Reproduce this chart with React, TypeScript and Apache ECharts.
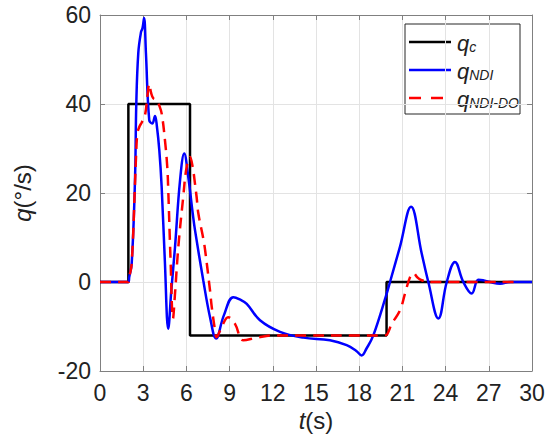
import React, { useEffect, useRef } from "react";
import * as echarts from "echarts";

// q_c command (step signal)
const qcT = [0, 1.97, 1.97, 6.25, 6.25, 19.9, 19.9, 30];
const qcV = [0, 0, 40, 40, -12, -12, 0, 0];

// q_NDI response
const ndiT = [0, 1.97, 2.03, 2.2, 2.43, 2.52, 2.66, 2.85, 2.95, 3.06, 3.19, 3.42, 3.63, 3.82, 3.95, 4.12, 4.28, 4.5, 4.74, 4.95, 5.21, 5.56, 5.85, 6.13, 6.44, 6.6, 7.17, 7.64, 8.06, 8.6, 9.26, 9.7, 10.19, 11.11, 12.5, 14.12, 15.97, 17.13, 17.8, 18.17, 18.5, 18.98, 19.91, 20.14, 20.83, 21.6, 22.34, 22.8, 23.5, 24.08, 24.65, 25.23, 25.81, 26.27, 26.6, 27.08, 27.78, 28.5, 30];
const ndiV = [0, 0, 1.1, 4.1, 22.9, 40, 51.5, 56.2, 57, 59.3, 51.4, 36.4, 35.6, 37.3, 35, 29.6, 21.5, 5, -10.5, -2, 7.9, 22.9, 28.9, 23.6, 15.4, 11.6, 0.4, -7.9, -12.7, -7.5, -3.4, -3.9, -4.9, -8.6, -11.2, -12.5, -13.1, -14.2, -15.5, -16.5, -15, -12, -2.6, 0, 7.9, 16.9, 6.4, 0, -8.2, 0, 4.5, 0, -2.6, 0.5, 0.4, 0, -0.4, 0, 0];

// q_NDI-DO response
const ndoT = [0, 1.97, 2.03, 2.2, 2.43, 2.5, 2.6, 2.75, 2.89, 3.125, 3.3, 3.42, 3.55, 3.7, 3.94, 4.1, 4.28, 4.51, 4.67, 4.74, 4.9, 5.07, 5.2, 5.44, 5.78, 6.0, 6.25, 6.45, 6.6, 6.71, 6.83, 7.17, 7.29, 7.64, 7.76, 7.99, 8.09, 8.4, 8.9, 9.375, 9.95, 10.9, 12, 19.75, 19.95, 20.26, 20.83, 21.18, 21.53, 21.76, 22.05, 22.34, 23, 29.2];
const ndoV = [0, 0, 1.1, 4.1, 22, 28, 33.5, 35, 35.8, 37.5, 42, 44.5, 42.5, 41.3, 40.9, 39.8, 37.9, 31.9, 25.9, 20.6, 5, -8.2, -3, 7.9, 19.1, 25.5, 28.1, 25.5, 22, 19.1, 15.4, 9.8, 7.4, -1.9, -5.6, -10.9, -12.4, -10.5, -7.9, -9.4, -13.1, -12.5, -12, -12, -11.7, -9.4, -6.4, -2.6, 1.1, 2, 1, 0.4, 0, 0];

const xTicks = { min: 0, max: 30, interval: 3 };
const yTicks = { min: -20, max: 60, interval: 20 };

const FONT = "Liberation Sans";
const TXT = "#222222";
const AXIS = "#808080";

const zip = (t: number[], v: number[]) => t.map((x, i) => [x, v[i]]);

export default function App() {
  const ref = useRef<HTMLDivElement>(null);
  useEffect(() => {
    document.body.style.margin = "0";
    const chart = echarts.init(ref.current!, undefined, { renderer: "svg" });
    const axisCommon = {
      type: "value" as const,
      axisLine: { show: true, onZero: false, lineStyle: { color: AXIS, width: 1 } },
      axisTick: { show: true, inside: true, length: 5, lineStyle: { color: AXIS } },
    };
    const legendItems = [
      { color: "#000000", dash: "solid", sub: "c", y: 42 },
      { color: "#0000ff", dash: "solid", sub: "NDI", y: 70 },
      { color: "#ff0000", dash: [12, 10], sub: "NDI-DO", y: 98 },
    ];
    chart.setOption({
      animation: false,
      backgroundColor: "#ffffff",
      grid: { left: 100, right: 18, top: 15, bottom: 73, containLabel: false, outerBoundsMode: "none" },
      xAxis: [
        {
          ...axisCommon,
          ...xTicks,
          position: "bottom",
          axisLabel: { show: true, margin: 10, fontSize: 23, color: TXT, fontFamily: FONT },
          splitLine: { show: true, lineStyle: { color: "#e3e3e3", width: 1 } },
          name: "{i|t}{n|(s)}",
          nameLocation: "middle",
          nameGap: 33,
          nameTextStyle: {
            rich: {
              i: { fontStyle: "italic", fontSize: 24, fontFamily: FONT, color: TXT },
              n: { fontSize: 24, fontFamily: FONT, color: TXT },
            },
          },
        },
        {
          ...axisCommon,
          ...xTicks,
          position: "top",
          axisLabel: { show: false },
          splitLine: { show: false },
        },
      ],
      yAxis: [
        {
          ...axisCommon,
          ...yTicks,
          position: "left",
          axisLabel: { show: true, margin: 9, fontSize: 23, color: TXT, fontFamily: FONT },
          splitLine: { show: true, lineStyle: { color: "#e3e3e3", width: 1 } },
          name: "{i|q}{n|(°/s)}",
          nameLocation: "middle",
          nameGap: 66,
          nameTextStyle: {
            rich: {
              i: { fontStyle: "italic", fontSize: 24, fontFamily: FONT, color: TXT },
              n: { fontSize: 24, fontFamily: FONT, color: TXT },
            },
          },
        },
        {
          ...axisCommon,
          ...yTicks,
          position: "right",
          axisLabel: { show: false },
          splitLine: { show: false },
        },
      ],
      series: [
        {
          type: "line",
          name: "qc",
          data: zip(qcT, qcV),
          symbol: "none",
          lineStyle: { color: "#000000", width: 2.5 },
          z: 2,
        },
        {
          type: "line",
          name: "qNDI",
          data: zip(ndiT, ndiV),
          symbol: "none",
          smooth: 0.4,
          lineStyle: { color: "#0000ff", width: 2.5 },
          z: 3,
        },
        {
          type: "line",
          name: "qNDI-DO",
          data: zip(ndoT, ndoV),
          symbol: "none",
          smooth: 0.4,
          lineStyle: { color: "#ff0000", width: 2.5, type: [11, 7] },
          z: 4,
        },
      ],
      graphic: [
        {
          type: "group",
          z: 100,
          children: [
            {
              type: "rect",
              shape: { x: 405, y: 24, width: 115, height: 90 },
              style: { fill: "#ffffff", stroke: "#262626", lineWidth: 1 },
            },
            ...legendItems.map((it) => ({
              type: "line",
              shape: { x1: 409, y1: it.y, x2: 451, y2: it.y },
              style: { stroke: it.color, lineWidth: 2.5, lineDash: it.dash === "solid" ? null : it.dash },
            })),
            ...legendItems.map((it) => ({
              type: "text",
              x: 457,
              y: it.y,
              style: {
                text: "{i|q}{s|" + it.sub + "}",
                verticalAlign: "middle",
                rich: {
                  i: { fontStyle: "italic", fontSize: 22, fontFamily: FONT, fill: TXT, lineHeight: 24, verticalAlign: "bottom" },
                  s: { fontStyle: "italic", fontSize: 14, fontFamily: FONT, fill: TXT, lineHeight: 14, verticalAlign: "bottom" },
                },
              },
            })),
          ],
        },
      ],
    });
    return () => chart.dispose();
  }, []);
  return <div ref={ref} style={{ width: 550, height: 444 }} />;
}
